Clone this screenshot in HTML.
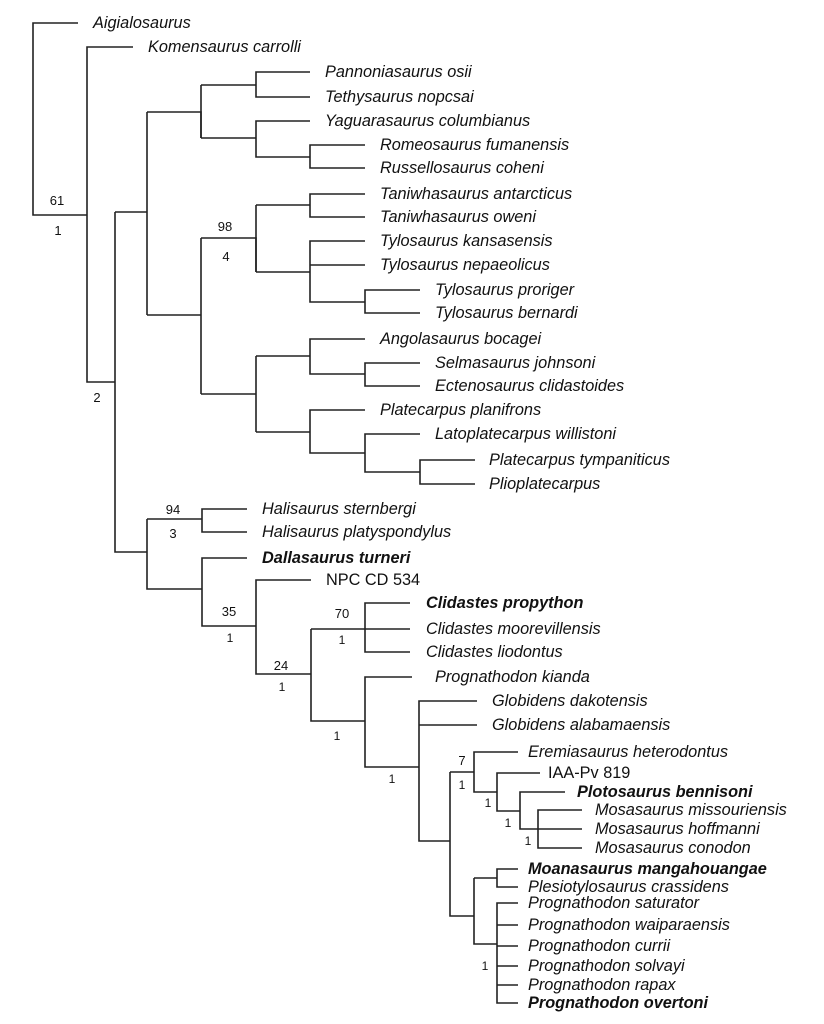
<!DOCTYPE html>
<html><head><meta charset="utf-8"><style>
html,body{margin:0;padding:0;background:#fff}
svg{display:block}
text{font-family:"Liberation Sans",Arial,sans-serif;font-size:16.3px;fill:#111}
.i{font-style:italic}
.b{font-style:italic;font-weight:bold}
.n{font-size:13px;text-anchor:middle}
</style></head><body>
<svg width="824" height="1024" viewBox="0 0 824 1024" xmlns="http://www.w3.org/2000/svg">
<g stroke="#222" stroke-width="1.6" fill="none">
<path d="M78 23H33V215H87"/>
<path d="M133 47H87V382H115"/>
<path d="M115 212V552H147"/>
<path d="M147 212H115"/>
<path d="M147 112V315"/>
<path d="M147 112H201V138"/>
<path d="M201 85V138"/>
<path d="M201 85H256"/>
<path d="M310 72H256V97H310"/>
<path d="M201 138H256"/>
<path d="M310 121H256V157H310"/>
<path d="M365 145H310V168H365"/>
<path d="M147 315H201"/>
<path d="M201 238V394"/>
<path d="M201 238H256V272"/>
<path d="M256 205V272"/>
<path d="M256 205H310"/>
<path d="M365 194H310V217H365"/>
<path d="M256 272H310"/>
<path d="M365 241H310V302H365"/>
<path d="M310 265H365"/>
<path d="M420 290H365V313H420"/>
<path d="M201 394H256"/>
<path d="M256 356V432"/>
<path d="M256 356H310"/>
<path d="M365 339H310V374H365"/>
<path d="M420 363H365V386H420"/>
<path d="M256 432H310"/>
<path d="M365 410H310V453H365"/>
<path d="M420 434H365V472H420"/>
<path d="M475 460H420V484H475"/>
<path d="M147 519V589H202"/>
<path d="M247 509H202V532H247"/>
<path d="M147 519H202"/>
<path d="M247 558H202V626H256"/>
<path d="M311 580H256V674H311"/>
<path d="M311 629V721H365"/>
<path d="M311 629H365"/>
<path d="M410 603H365V652H410"/>
<path d="M365 629H410"/>
<path d="M412 677H365V767H419"/>
<path d="M477 701H419V841H450"/>
<path d="M419 725H477"/>
<path d="M450 772V916H474"/>
<path d="M450 772H474"/>
<path d="M518 752H474V792H497"/>
<path d="M540 773H497V811H520"/>
<path d="M565 792H520V829H538"/>
<path d="M582 810H538V848H582"/>
<path d="M538 829H582"/>
<path d="M474 878V944H497"/>
<path d="M518 869H497V887H518"/>
<path d="M474 878H497"/>
<path d="M518 903H497V1003H518"/>
<path d="M497 925H518M497 946H518M497 966H518M497 985H518"/>
</g>
<g>
<text class="i" x="93" y="28">Aigialosaurus</text>
<text class="i" x="148" y="52">Komensaurus carrolli</text>
<text class="i" x="325" y="77">Pannoniasaurus osii</text>
<text class="i" x="325" y="102">Tethysaurus nopcsai</text>
<text class="i" x="325" y="126">Yaguarasaurus columbianus</text>
<text class="i" x="380" y="150">Romeosaurus fumanensis</text>
<text class="i" x="380" y="173">Russellosaurus coheni</text>
<text class="i" x="380" y="199">Taniwhasaurus antarcticus</text>
<text class="i" x="380" y="222">Taniwhasaurus oweni</text>
<text class="i" x="380" y="246">Tylosaurus kansasensis</text>
<text class="i" x="380" y="270">Tylosaurus nepaeolicus</text>
<text class="i" x="435" y="295">Tylosaurus proriger</text>
<text class="i" x="435" y="318">Tylosaurus bernardi</text>
<text class="i" x="380" y="344">Angolasaurus bocagei</text>
<text class="i" x="435" y="368">Selmasaurus johnsoni</text>
<text class="i" x="435" y="391">Ectenosaurus clidastoides</text>
<text class="i" x="380" y="415">Platecarpus planifrons</text>
<text class="i" x="435" y="439">Latoplatecarpus willistoni</text>
<text class="i" x="489" y="465">Platecarpus tympaniticus</text>
<text class="i" x="489" y="489">Plioplatecarpus</text>
<text class="i" x="262" y="514">Halisaurus sternbergi</text>
<text class="i" x="262" y="537">Halisaurus platyspondylus</text>
<text class="b" x="262" y="563">Dallasaurus turneri</text>
<text x="326" y="585">NPC CD 534</text>
<text class="b" x="426" y="608">Clidastes propython</text>
<text class="i" x="426" y="634">Clidastes moorevillensis</text>
<text class="i" x="426" y="657">Clidastes liodontus</text>
<text class="i" x="435" y="682">Prognathodon kianda</text>
<text class="i" x="492" y="706">Globidens dakotensis</text>
<text class="i" x="492" y="730">Globidens alabamaensis</text>
<text class="i" x="528" y="757">Eremiasaurus heterodontus</text>
<text x="548" y="778">IAA-Pv 819</text>
<text class="b" x="577" y="797">Plotosaurus bennisoni</text>
<text class="i" x="595" y="815">Mosasaurus missouriensis</text>
<text class="i" x="595" y="834">Mosasaurus hoffmanni</text>
<text class="i" x="595" y="853">Mosasaurus conodon</text>
<text class="b" x="528" y="874">Moanasaurus mangahouangae</text>
<text class="i" x="528" y="892">Plesiotylosaurus crassidens</text>
<text class="i" x="528" y="908">Prognathodon saturator</text>
<text class="i" x="528" y="930">Prognathodon waiparaensis</text>
<text class="i" x="528" y="951">Prognathodon currii</text>
<text class="i" x="528" y="971">Prognathodon solvayi</text>
<text class="i" x="528" y="990">Prognathodon rapax</text>
<text class="b" x="528" y="1008">Prognathodon overtoni</text>
</g>
<g>
<text class="n" x="57" y="205">61</text>
<text class="n" x="58" y="235">1</text>
<text class="n" x="97" y="402">2</text>
<text class="n" x="225" y="231">98</text>
<text class="n" x="226" y="261">4</text>
<text class="n" x="173" y="514">94</text>
<text class="n" x="173" y="538">3</text>
<text class="n" x="229" y="616">35</text>
<text class="n" x="230" y="642" style="font-size:12px">1</text>
<text class="n" x="342" y="618">70</text>
<text class="n" x="342" y="644" style="font-size:12px">1</text>
<text class="n" x="281" y="670">24</text>
<text class="n" x="282" y="691" style="font-size:12px">1</text>
<text class="n" x="337" y="740" style="font-size:12px">1</text>
<text class="n" x="392" y="783" style="font-size:12px">1</text>
<text class="n" x="462" y="765">7</text>
<text class="n" x="462" y="789" style="font-size:12px">1</text>
<text class="n" x="488" y="807" style="font-size:12px">1</text>
<text class="n" x="508" y="827" style="font-size:12px">1</text>
<text class="n" x="528" y="845" style="font-size:12px">1</text>
<text class="n" x="485" y="970" style="font-size:12px">1</text>
</g>
</svg>
</body></html>
